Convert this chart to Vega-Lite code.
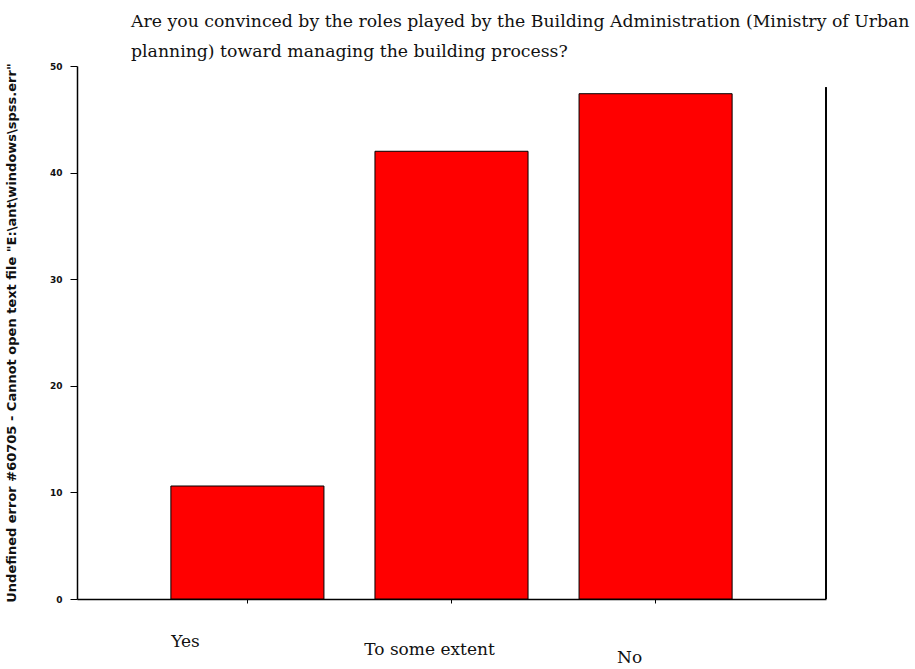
{
  "$schema": "https://vega.github.io/schema/vega-lite/v6.json",
  "width": 749,
  "height": 533,
  "autosize": {"type": "none"},
  "padding": {"left": 77, "top": 66, "right": 89, "bottom": 70},
  "background": "white",
  "config": {"view": {"stroke": null}},
  "title": {
    "text": ["Are you convinced by the roles played by the Building Administration (Ministry of Urban", "planning) toward managing the building process?"],
    "anchor": "start",
    "frame": "group",
    "dx": 54,
    "offset": 2,
    "font": "DejaVu Serif",
    "fontSize": 17.3,
    "fontWeight": "normal",
    "lineHeight": 30,
    "color": "#111111"
  },
  "data": {
    "values": [
      {"answer": "Yes", "percent": 10.6},
      {"answer": "To some extent", "percent": 42.0},
      {"answer": "No", "percent": 47.4}
    ]
  },
  "layer": [
    {
      "mark": {"type": "bar", "color": "#ff0000", "stroke": "#000000", "strokeWidth": 1},
      "encoding": {
        "x": {
          "field": "answer",
          "type": "nominal",
          "sort": ["Yes", "To some extent", "No"],
          "scale": {"paddingInner": 0.25, "paddingOuter": 0.46},
          "axis": {
            "title": null,
            "labelAngle": 0,
            "domainColor": "#000000",
            "domainWidth": 1.5,
            "tickColor": "#000000",
            "tickSize": 4,
            "labelFont": "DejaVu Serif",
            "labelFontSize": 17,
            "labelColor": "#111111",
            "labelBaseline": "top",
            "labelOffset": {"condition": [{"test": "datum.value == 'Yes'", "value": -62}, {"test": "datum.value == 'No'", "value": -26}], "value": -22},
            "labelPadding": {"condition": [{"test": "datum.value == 'Yes'", "value": 30}, {"test": "datum.value == 'No'", "value": 46}], "value": 38}
          }
        },
        "y": {
          "field": "percent",
          "type": "quantitative",
          "scale": {"domain": [0, 50], "nice": false},
          "axis": {
            "title": "Undefined error #60705 - Cannot open text file \"E:\\ant\\windows\\spss.err\"",
            "titleFont": "DejaVu Sans",
            "titleFontSize": 13,
            "titleFontWeight": "bold",
            "titleColor": "#111111",
            "titlePadding": 31,
            "values": [0, 10, 20, 30, 40, 50],
            "grid": false,
            "domainColor": "#000000",
            "domainWidth": 1.5,
            "tickColor": "#000000",
            "tickSize": 7,
            "labelFont": "DejaVu Sans",
            "labelFontSize": 9,
            "labelFontWeight": "bold",
            "labelColor": "#111111",
            "labelPadding": 8
          }
        }
      }
    },
    {
      "mark": {"type": "rule", "color": "#000000", "strokeWidth": 1.5},
      "encoding": {
        "x": {"value": "width"},
        "y": {"datum": 0},
        "y2": {"datum": 48}
      }
    }
  ]
}
